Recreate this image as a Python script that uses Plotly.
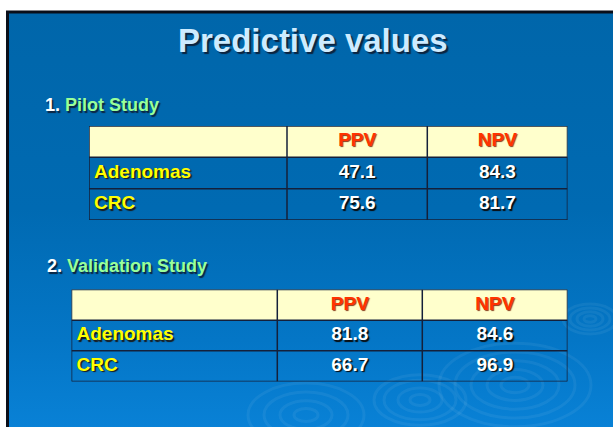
import base64
import plotly.graph_objects as go

# ---- data ----
title_text = "Predictive values"
study_titles = ["Pilot Study", "Validation Study"]
col_labels = ["PPV", "NPV"]
row_labels = ["Adenomas", "CRC"]
pilot_ppv = ["47.1", "75.6"]
pilot_npv = ["84.3", "81.7"]
valid_ppv = ["81.8", "66.7"]
valid_npv = ["84.6", "96.9"]

# page body margin is removed in the post script, so the figure fills the window
OX, OY = 0, 0
W, H = 613, 427


def px(x):
    return (x - OX) / W


def py(y):
    return 1 - (y - OY) / H


# ---- slide background (gradient + faint ripples) ----
ripples = ""
for cx, cy, rs in [(515, 385, [14, 28, 44, 60, 76]), (590, 319, [6, 13, 20, 27]),
                   (306, 415, [12, 26, 42, 58]), (420, 400, [10, 22, 36, 46])]:
    for r in rs:
        ripples += (f'<ellipse cx="{cx}" cy="{cy}" rx="{r}" ry="{r*0.55:.1f}" fill="none" '
                    f'stroke="rgba(255,255,255,0.06)" stroke-width="3"/>')
svg = f'''<svg xmlns="http://www.w3.org/2000/svg" width="{W}" height="{H}" viewBox="0 0 {W} {H}">
<defs><linearGradient id="g" x1="0" y1="0" x2="0" y2="1">
<stop offset="0" stop-color="#0066AA"/><stop offset="0.45" stop-color="#006AB2"/>
<stop offset="0.75" stop-color="#0476C6"/><stop offset="1" stop-color="#0A84DA"/></linearGradient></defs>
<rect x="0" y="0" width="{W}" height="{H}" fill="#ffffff"/>
<rect x="7.5" y="12" width="{W+10}" height="{H+10}" fill="url(#g)" stroke="#0a0f1a" stroke-width="3"/>
{ripples}
</svg>'''
src = "data:image/svg+xml;base64," + base64.b64encode(svg.encode()).decode()

fig = go.Figure()

LINE = "#14203A"
FONT = "Liberation Sans"
TSIZE = 19
shapes = []


def add_table(idx, ppv, npv, left, right, top, bottom, widths):
    xa = "x" if idx == 1 else f"x{idx}"
    ya = "y" if idx == 1 else f"y{idx}"
    bounds = [0, widths[0], widths[0] + widths[1], sum(widths)]
    total = bounds[-1]
    centers = [(bounds[i] + bounds[i + 1]) / 2 for i in range(3)]
    nrows = 1 + len(row_labels)
    # header text
    fig.add_trace(go.Scatter(
        x=centers[1:], y=[0.5, 0.5], mode="text", xaxis=xa, yaxis=ya,
        text=[f"<b>{c}</b>" for c in col_labels], textposition="middle center",
        textfont=dict(family=FONT, size=TSIZE, color="#FF3300", shadow="1px 1px 1px #8a3a1a"),
        hoverinfo="skip"))
    # row labels
    fig.add_trace(go.Scatter(
        x=[5] * len(row_labels), y=[i + 1.5 for i in range(len(row_labels))], mode="text",
        xaxis=xa, yaxis=ya,
        text=[f"<b>{r}</b>" for r in row_labels], textposition="middle right",
        textfont=dict(family=FONT, size=TSIZE, color="#FFFF00", shadow="1.5px 1.5px 1px #1a1a1a"),
        hoverinfo="skip"))
    # values
    for ci, vals in ((1, ppv), (2, npv)):
        fig.add_trace(go.Scatter(
            x=[centers[ci]] * len(vals), y=[i + 1.5 for i in range(len(vals))], mode="text",
            xaxis=xa, yaxis=ya,
            text=[f"<b>{v}</b>" for v in vals], textposition="middle center",
            textfont=dict(family=FONT, size=TSIZE, color="#FFFFFF", shadow="1.5px 1.5px 1px #0a0a0a"),
            hoverinfo="skip"))
    # header fill
    shapes.append(dict(type="rect", xref=xa, yref=ya, x0=0, x1=total, y0=0, y1=1,
                       fillcolor="#FFFFCC", line=dict(width=0), layer="below"))
    # grid lines
    for b in bounds:
        shapes.append(dict(type="line", xref=xa, yref=ya, x0=b, x1=b, y0=0, y1=nrows,
                           line=dict(color=LINE, width=1.5)))
    for r in range(nrows + 1):
        shapes.append(dict(type="line", xref=xa, yref=ya, x0=0, x1=total, y0=r, y1=r,
                           line=dict(color=LINE, width=1.5)))
    ax = dict(domain=[px(left), px(right)], range=[0, total], visible=False, fixedrange=True,
              anchor=ya)
    ay = dict(domain=[py(bottom), py(top)], range=[nrows, 0], visible=False, fixedrange=True,
              anchor=xa)
    fig.update_layout(**{("xaxis" if idx == 1 else f"xaxis{idx}"): ax,
                         ("yaxis" if idx == 1 else f"yaxis{idx}"): ay})


add_table(1, pilot_ppv, pilot_npv, 89, 567.5, 126, 220, [198, 140.3, 140.2])
add_table(2, valid_ppv, valid_npv, 71.5, 567.5, 289.5, 381.5, [205.8, 145, 145.2])

annotations = [
    dict(text=f"<b>{title_text}</b>", x=px(312.5), y=py(40), xanchor="center", yanchor="middle",
         font=dict(family=FONT, size=33, color="#CDEBFF", shadow="2px 2px 1px #0b2440")),
    dict(text=f"<b>1. <span style='color:#99FF99'>{study_titles[0]}</span></b>", x=px(43), y=py(105),
         xanchor="left", yanchor="middle",
         font=dict(family=FONT, size=18, color="#FFFFFF", shadow="1.5px 1.5px 1px #0b2440")),
    dict(text=f"<b>2. <span style='color:#99FF99'>{study_titles[1]}</span></b>", x=px(45), y=py(266),
         xanchor="left", yanchor="middle",
         font=dict(family=FONT, size=18, color="#FFFFFF", shadow="1.5px 1.5px 1px #0b2440")),
]
for a in annotations:
    a.update(xref="paper", yref="paper", showarrow=False)

fig.update_layout(
    width=W, height=H,
    margin=dict(l=0, r=0, t=0, b=0),
    paper_bgcolor="#ffffff",
    plot_bgcolor="rgba(0,0,0,0)",
    images=[dict(source=src, xref="paper", yref="paper", x=0, y=1, sizex=1, sizey=1,
                 xanchor="left", yanchor="top", sizing="stretch", layer="below")],
    annotations=annotations,
    shapes=shapes,
    showlegend=False,
    hovermode=False,
)

fig.write_html("out.html",
               config={"displayModeBar": False, "staticPlot": True},
               post_script="document.body.style.margin='0';"
                           "document.documentElement.style.overflow='hidden';")
